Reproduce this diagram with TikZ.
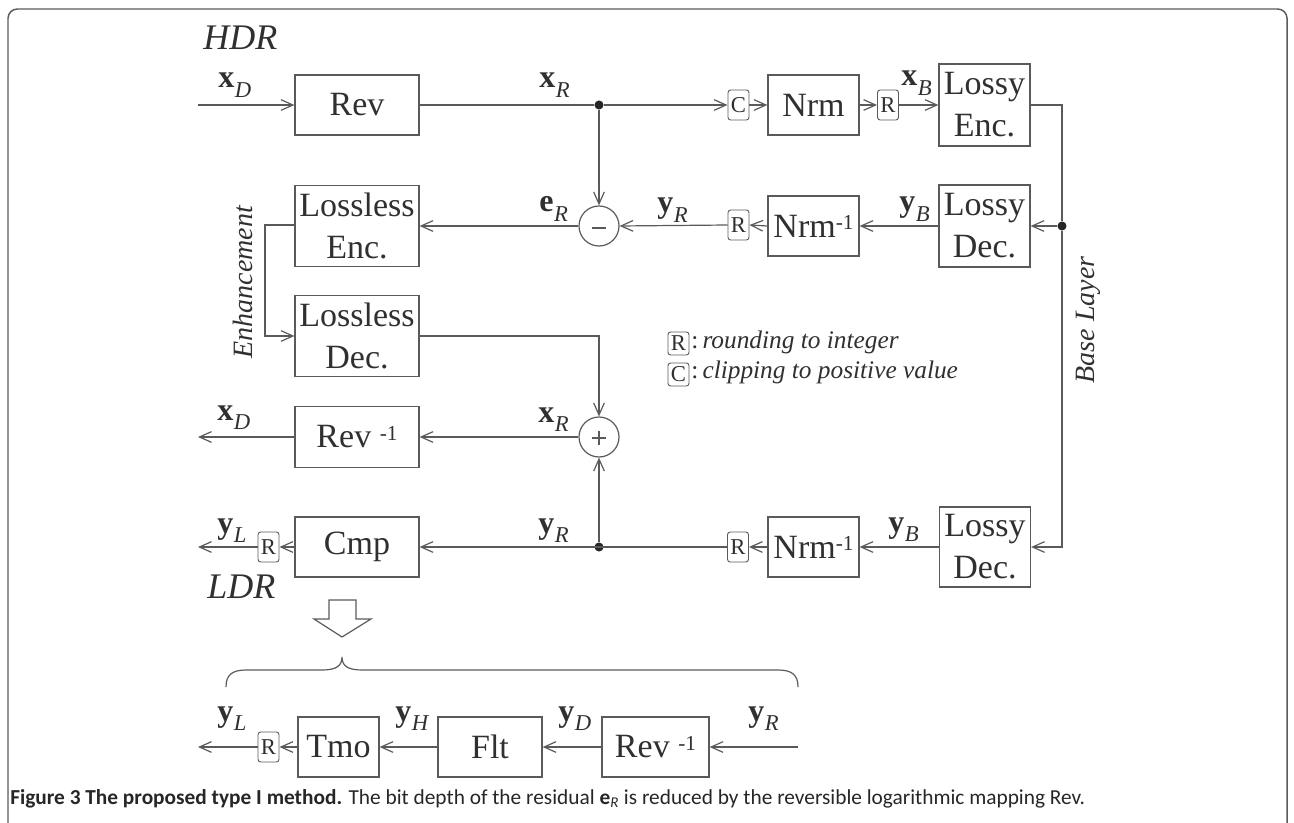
\documentclass[tikz,border=0pt]{standalone}
\usepackage{fontspec}
\setmainfont{Liberation Serif}
\newfontfamily\capfont{Carlito}
\usetikzlibrary{arrows.meta}
\definecolor{lc}{HTML}{5A5A5A}
\definecolor{tc}{HTML}{303030}
\newcommand\vlab[2]{\textbf{#1}\kern0.5pt\raisebox{-6.8pt}{\fontsize{17pt}{17pt}\selectfont\itshape #2}}
\newcommand\inv[2]{#1#2\raisebox{5.5pt}{\fontsize{16pt}{16pt}\selectfont -1}}
\tikzset{
  blk/.style={draw=lc, line width=0.9pt, inner sep=0pt, minimum height=45pt, align=center,
    font=\fontsize{25.5pt}{31.5pt}\selectfont, text=tc},
  wide/.style={minimum width=93pt},
  mid/.style={minimum width=68.25pt},
  sq/.style={draw=lc, line width=0.7pt, rounded corners=2pt, inner sep=0pt,
    minimum width=15.75pt, minimum height=22.5pt, font=\fontsize{17pt}{17pt}\selectfont, text=tc},
  lsq/.style={sq, minimum height=17.25pt},
  lab/.style={inner sep=0pt, anchor=base west, font=\fontsize{24pt}{24pt}\selectfont, text=tc},
  ttl/.style={inner sep=0pt, anchor=base west, font=\fontsize{27pt}{27pt}\selectfont\itshape, text=tc},
  side/.style={inner sep=0pt, rotate=90, font=\fontsize{21pt}{21pt}\selectfont\itshape, text=tc},
  sumc/.style={draw=lc, line width=0.9pt, circle, minimum size=30pt, inner sep=0pt},
  dotn/.style={circle, fill=black!85, inner sep=0pt, minimum size=6.8pt},
  ln/.style={draw=lc, line width=0.9pt},
  arr/.style={ln, -{Straight Barb[length=9pt,width=8pt,line width=0.9pt]}},
  legt/.style={inner sep=0pt, anchor=base west, font=\fontsize{19pt}{19pt}\selectfont, text=tc},
}
\begin{document}
\begin{tikzpicture}[x=0.75pt, y=-0.75pt]
\useasboundingbox (0,0) rectangle (1294,823);
% frame
\draw[lc, line width=1.1pt, rounded corners=7pt] (8,840) -- (8,9) -- (1287,9) -- (1287,840);

% titles
\node[ttl] (hdr) at (203,50) {HDR};
\node[ttl] (ldr) at (207,598) {LDR};

% top row
\node[blk, wide] (rev) at (357,105) {Rev};
\node[dotn] (dot1) at (599,105) {};
\node[sq] (cbox) at (738.5,105) {C};
\node[blk, mid] (nrm) at (813.5,105) {Nrm};
\node[sq] (rbox1) at (888,105) {R};
\node[blk, mid, minimum height=61.5pt] (lenc) at (984.5,105) {Lossy\\Enc.};
\coordinate (xin) at (198,105);

% middle row
\node[sumc] (minus) at (599,226) {};
\draw[lc, line width=2pt] (592,228) -- (606,228);
\node[blk, wide, minimum height=60.75pt] (llenc) at (357,226) {Lossless\\Enc.};
\node[sq] (rbox2) at (738.5,225) {R};
\node[blk, mid] (nrmi1) at (813.5,226) {\inv{Nrm}{}};
\node[blk, mid, minimum height=61.5pt] (ldec1) at (984.5,226) {Lossy\\Dec.};
\node[dotn] (dot2) at (1062,226) {};

% enhancement
\node[blk, wide, minimum height=60.75pt] (lldec) at (357,336) {Lossless\\Dec.};
\coordinate (e1) at (265,225);

% plus row
\node[sumc] (plus) at (599,437) {};
\draw[lc, line width=2pt] (592,438) -- (606,438) (599,431) -- (599,445);
\node[blk, wide, minimum height=45.75pt] (revi) at (357,437) {\inv{Rev}{ }};
\coordinate (xout) at (198,437);

% lower row
\node[blk, wide] (cmp) at (357,547) {Cmp};
\node[sq] (rbox3) at (268.5,547) {R};
\coordinate (yout) at (198,547);
\node[dotn] (dot3) at (599,547) {};
\node[sq] (rbox4) at (738,547) {R};
\node[blk, mid] (nrmi2) at (813.5,547) {\inv{Nrm}{}};
\node[blk, mid, minimum height=60pt] (ldec2) at (985,547) {Lossy\\Dec.};

% bottom row
\node[blk, minimum width=60.75pt] (tmo) at (338.5,747) {Tmo};
\node[blk, minimum width=78pt] (flt) at (490,747) {Flt};
\node[blk, minimum width=80.25pt] (revi2) at (655.5,747) {\inv{Rev}{ }};
\node[sq] (rbox5) at (268.5,747) {R};
\coordinate (yin) at (798,747);
\coordinate (yout2) at (198,747);

% labels
\node[lab] (lxd1) at (218,88) {\vlab{x}{D}};
\node[lab] (lxr1) at (539,88) {\vlab{x}{R}};
\node[lab] (lxb) at (901,86) {\vlab{x}{B}};
\node[lab] (ler) at (539,212) {\vlab{e}{R}};
\node[lab] (lyr1) at (657,213) {\vlab{y}{R}};
\node[lab] (lyb1) at (899,212) {\vlab{y}{B}};
\node[lab] (lxd2) at (217,420) {\vlab{x}{D}};
\node[lab] (lxr2) at (538,422) {\vlab{x}{R}};
\node[lab] (lyl1) at (217,533) {\vlab{y}{L}};
\node[lab] (lyr2) at (538,533) {\vlab{y}{R}};
\node[lab] (lyb2) at (888,532) {\vlab{y}{B}};
\node[lab] (lyl2) at (217,721) {\vlab{y}{L}};
\node[lab] (lyh) at (395,721) {\vlab{y}{H}};
\node[lab] (lyd) at (558,721) {\vlab{y}{D}};
\node[lab] (lyr3) at (748,721) {\vlab{y}{R}};

% side labels
\node[side] (enh) at (243,282) {Enhancement};
\node[side] (base) at (1088,320) {Base Layer};

% legend
\node[lsq] (lr) at (678.5,343.5) {R};
\node[legt] (lrt) at (691,348) {:\,\textit{rounding to integer}};
\node[lsq] (lc) at (678.5,374.5) {C};
\node[legt] (lct) at (691,378) {:\,\textit{clipping to positive value}};

% connectors top
\draw[arr] (xin) -- (rev.west);
\draw[ln] (rev.east) -- (dot1);
\draw[arr] (dot1) -- (cbox.west);
\draw[arr] (cbox.east) -- (nrm.west);
\draw[arr] (nrm.east) -- (rbox1.west);
\draw[arr] (rbox1.east) -- (lenc.west);
\draw[ln] (lenc.east) -| (dot2);
\draw[arr] (dot2) -- (ldec1.east);
\draw[arr] (dot2) |- (ldec2.east);
\draw[arr] (dot1) -- (minus.north);
% middle
\draw[arr] (ldec1.west) -- (nrmi1.east);
\draw[arr] (nrmi1.west) -- (rbox2.east);
\draw[arr] (rbox2.west) -- (minus.east);
\draw[arr] (minus.west) -- (llenc.east);
\draw[arr] (llenc.west |- e1) -- (e1) |- (lldec.west);
\draw[arr] (lldec.east) -| (plus.north);
\draw[arr] (plus.west) -- (revi.east);
\draw[arr] (revi.west) -- (xout);
% lower
\draw[arr] (ldec2.west) -- (nrmi2.east);
\draw[arr] (nrmi2.west) -- (rbox4.east);
\draw[arr] (rbox4.west) -- (cmp.east);
\draw[arr] (dot3) -- (plus.south);
\draw[arr] (cmp.west) -- (rbox3.east);
\draw[arr] (rbox3.west) -- (yout);
% bottom
\draw[arr] (yin) -- (revi2.east);
\draw[arr] (revi2.west) -- (flt.east);
\draw[arr] (flt.west) -- (tmo.east);
\draw[arr] (tmo.west) -- (rbox5.east);
\draw[arr] (rbox5.west) -- (yout2);

% hollow arrow and brace
\draw[lc, line width=0.9pt] (329,600) -- (356,600) -- (356,619) -- (371,619) -- (342,637) -- (314,619) -- (329,619) -- cycle;
\draw[lc, line width=0.9pt] (226,687) .. controls (226,675) and (232,670) .. (246,670) -- (322,670)
  .. controls (336,670) and (342,666) .. (342,657)
  .. controls (342,666) and (348,670) .. (362,670) -- (778,670)
  .. controls (792,670) and (798,675) .. (798,687);

% caption
\node[inner sep=0pt, anchor=base west, text=black!85] (cap) at (10,804) {\resizebox{806pt}{!}{\capfont\fontsize{15pt}{15pt}\selectfont\textbf{Figure 3 The proposed type I method.} The bit depth of the residual \textbf{e}\textsubscript{\textit{R}} is reduced by the reversible logarithmic mapping Rev.}};
\end{tikzpicture}
\end{document}
